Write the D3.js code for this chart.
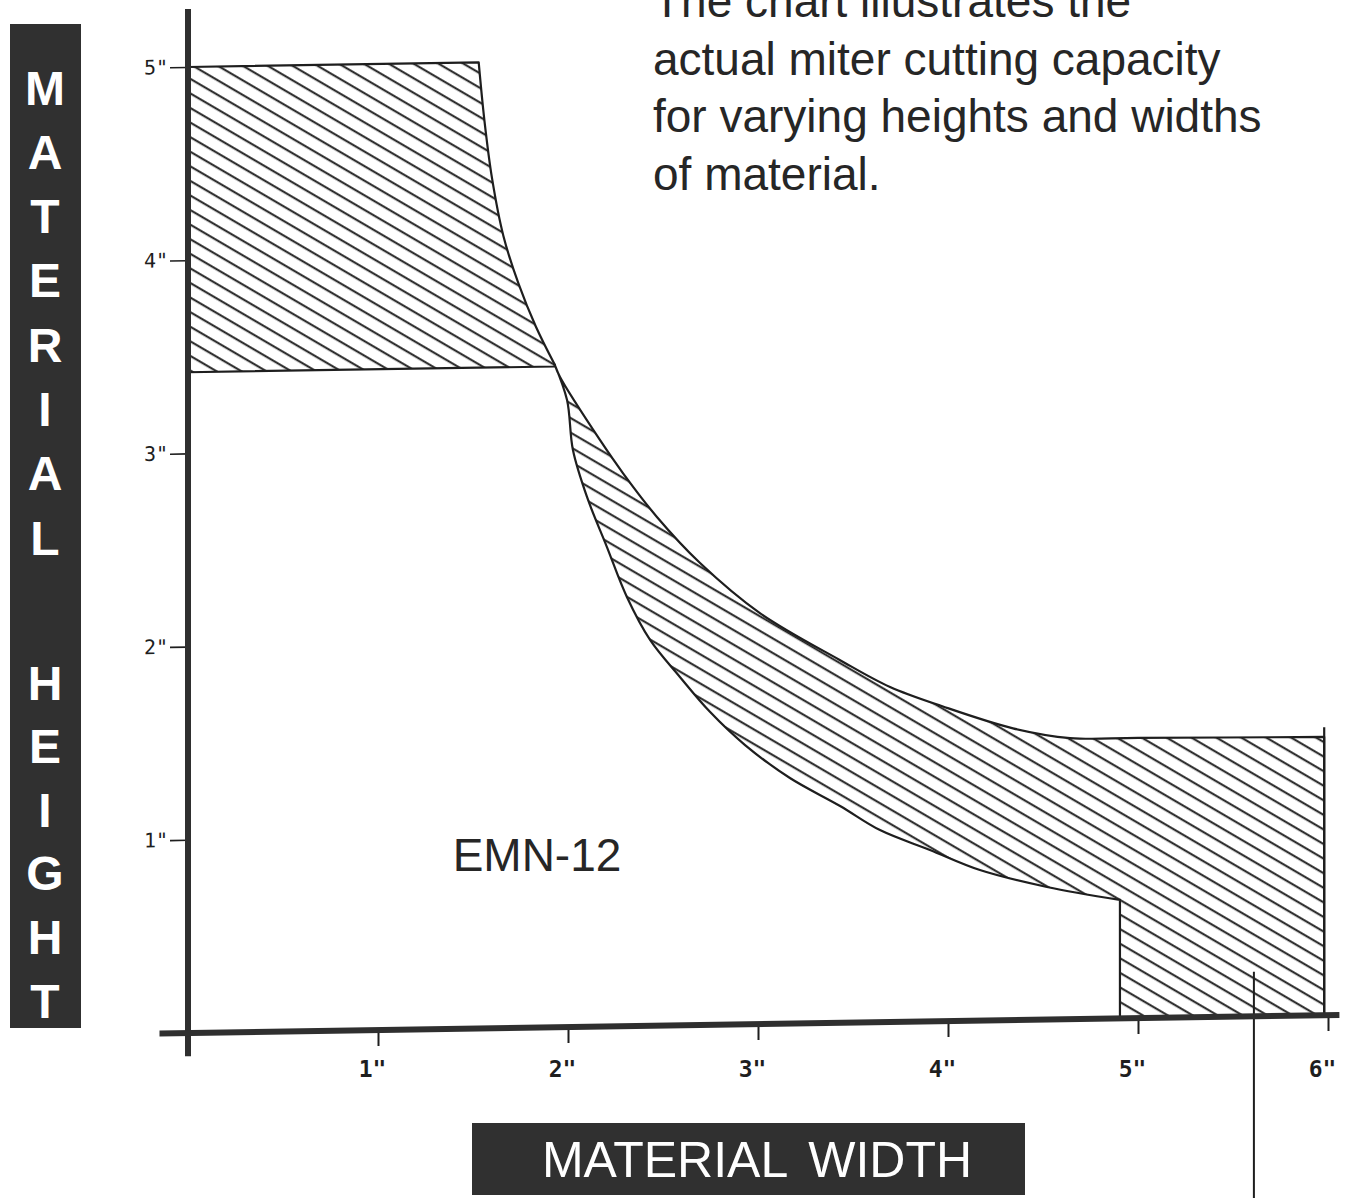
<!DOCTYPE html>
<html>
<head>
<meta charset="utf-8">
<script src="https://cdn.jsdelivr.net/npm/d3@7"></script>
<style>
  body { margin: 0; background: #fff; }
  svg { display: block; }
</style>
</head>
<body>
<div id="chart"></div>
<script>
// ── Data (inches) ─────────────────────────────────────────────
const xTicks = [1, 2, 3, 4, 5, 6];
const yTicks = [1, 2, 3, 4, 5];

// upper hatched zone: top-left corner, then the falling right edge
const tallZoneEdge = [
  [1.53, 5], [1.56, 4.7], [1.6, 4.4], [1.66, 4.1],
  [1.74, 3.85], [1.83, 3.63], [1.93, 3.43]
];
const tallZoneTop = 5;
const tallZoneFloor = 3.42;

// lower hatched band: upper boundary (max) and lower boundary (min)
const bandUpper = [
  [1.93, 3.43], [1.958, 3.365], [2.168, 3.036], [2.289, 2.863], [2.468, 2.633],
  [2.695, 2.391], [3.01, 2.127], [3.43, 1.878], [3.695, 1.734], [3.97, 1.63],
  [4.342, 1.51], [4.642, 1.455], [5.0, 1.45], [5.98, 1.44]
];
const bandLower = [
  [1.93, 3.43], [1.995, 3.245], [2.026, 2.986], [2.1, 2.742], [2.205, 2.481],
  [2.31, 2.221], [2.432, 1.997], [2.589, 1.803], [2.747, 1.62], [2.932, 1.445],
  [3.168, 1.271], [3.432, 1.122], [3.642, 0.994], [3.905, 0.887], [4.168, 0.779],
  [4.521, 0.686], [4.905, 0.613]
];
const blockLeft  = 4.905;
const blockRight = 5.98;
const leaderX = 5.61;
const leaderTop = 0.23;

const descLines = [
  "The chart illustrates the",
  "actual miter cutting capacity",
  "for varying heights and widths",
  "of material."
];
const modelName = "EMN-12";
const yTitleWords = ["MATERIAL", "HEIGHT"];
const xTitle = "MATERIAL WIDTH";

const ink = "#1e1e1e";
const axisInk = "#2f2f2f";
const boxInk = "#303030";

const W = 1345, H = 1198;

const svg = d3.select("#chart").append("svg")
  .attr("width", W).attr("height", H);

// hatch pattern
const defs = svg.append("defs");
defs.append("pattern")
  .attr("id", "hatch")
  .attr("patternUnits", "userSpaceOnUse")
  .attr("width", 13).attr("height", 12.5)
  .attr("patternTransform", "rotate(31)")
  .append("line")
  .attr("x1", -1).attr("y1", 6).attr("x2", 14).attr("y2", 6)
  .attr("stroke", ink).attr("stroke-width", 2);

// ── Plot area (scan is slightly skewed) ──────────────────────
const g = svg.append("g")
  .attr("transform", "translate(188,1033) skewY(-0.9)");

const x = d3.scaleLinear().domain([0, 6]).range([0, 1140]);
const y = d3.scaleLinear().domain([0, 5]).range([0, -966]);

const smooth = d3.line().x(d => x(d[0])).y(d => y(d[1]))
  .curve(d3.curveCatmullRom.alpha(0.5));

// upper zone polygon
const edgeEnd = tallZoneEdge[tallZoneEdge.length - 1];
const tallPath =
  "M" + x(0) + "," + y(tallZoneTop) +
  smooth(tallZoneEdge).replace(/^M/, "L") +
  "L" + x(edgeEnd[0]) + "," + y(tallZoneFloor) +
  "L" + x(0) + "," + y(tallZoneFloor) + "Z";

g.append("path")
  .attr("d", tallPath)
  .attr("fill", "url(#hatch)")
  .attr("stroke", ink).attr("stroke-width", 2.2)
  .attr("stroke-linejoin", "round");

// lower band + block
const last = bandUpper[bandUpper.length - 1];
const bandPath =
  smooth(bandUpper) +
  "L" + x(blockRight) + "," + y(last[1]) +
  "L" + x(blockRight) + "," + y(0) +
  "L" + x(blockLeft) + "," + y(0) +
  "L" + x(blockLeft) + "," + y(bandLower[bandLower.length - 1][1]) +
  smooth(bandLower.slice().reverse()).replace(/^M/, "L") + "Z";

g.append("path")
  .attr("d", bandPath)
  .attr("fill", "url(#hatch)")
  .attr("stroke", ink).attr("stroke-width", 2.2)
  .attr("stroke-linejoin", "round");

// little overshoot of right edge
g.append("line")
  .attr("x1", x(blockRight)).attr("x2", x(blockRight))
  .attr("y1", y(last[1] + 0.05)).attr("y2", y(0))
  .attr("stroke", ink).attr("stroke-width", 2.2);

// leader line
g.append("line")
  .attr("x1", x(leaderX)).attr("x2", x(leaderX))
  .attr("y1", y(leaderTop)).attr("y2", y(-1.1))
  .attr("stroke", ink).attr("stroke-width", 2);

// ── Axes ─────────────────────────────────────────────────────
g.append("g")
  .call(d3.axisBottom(x).tickValues(xTicks).tickSize(16).tickFormat(""))
  .call(a => a.select(".domain").remove())
  .call(a => a.selectAll(".tick line").attr("stroke", ink).attr("stroke-width", 2));

g.append("g")
  .call(d3.axisLeft(y).tickValues(yTicks).tickSize(18).tickPadding(2).tickFormat(d => d + '"'))
  .call(a => a.select(".domain").remove())
  .call(a => a.selectAll(".tick line").attr("stroke", ink).attr("stroke-width", 1.6))
  .call(a => a.selectAll(".tick text")
    .attr("fill", ink)
    .style("font-family", "'DejaVu Sans Mono', monospace")
    .style("font-size", "20px"));

g.append("line")
  .attr("x1", 0).attr("x2", 0)
  .attr("y1", y(5.3)).attr("y2", y(-0.12))
  .attr("stroke", axisInk).attr("stroke-width", 6);

g.append("line")
  .attr("x1", x(-0.15)).attr("x2", x(6.06))
  .attr("y1", y(0)).attr("y2", y(0))
  .attr("stroke", axisInk).attr("stroke-width", 6);

// x tick labels sit level (not skewed)
svg.append("g")
  .attr("transform", "translate(182,1058)")
  .call(d3.axisBottom(x).tickValues(xTicks).tickSize(0).tickFormat(d => d + '"'))
  .call(a => a.select(".domain").remove())
  .call(a => a.selectAll(".tick text")
    .attr("fill", ink)
    .style("font-family", "'DejaVu Sans Mono', monospace")
    .style("font-weight", "bold")
    .style("font-size", "23px"));

// ── Texts ────────────────────────────────────────────────────
svg.append("g")
  .selectAll("text")
  .data(descLines).enter().append("text")
  .attr("x", 653)
  .attr("y", (d, i) => 17 + i * 57.5)
  .style("font-family", "'Liberation Sans', Arial, sans-serif")
  .style("font-size", "46px")
  .attr("fill", "#262626")
  .text(d => d);

svg.append("text")
  .attr("x", 537).attr("y", 871)
  .attr("text-anchor", "middle")
  .style("font-family", "'Liberation Sans', Arial, sans-serif")
  .style("font-size", "46px")
  .attr("fill", "#262626")
  .text(modelName);

// left title box
svg.append("rect")
  .attr("x", 10).attr("y", 24).attr("width", 71).attr("height", 1004)
  .attr("fill", boxInk);

const letterRows = [];
yTitleWords[0].split("").forEach((c, i) => letterRows.push({ c, y: 88 + i * 64.3 }));
yTitleWords[1].split("").forEach((c, i) => letterRows.push({ c, y: 683 + i * 63.6 }));

svg.append("g")
  .selectAll("text")
  .data(letterRows).enter().append("text")
  .attr("x", 45).attr("y", d => d.y)
  .attr("text-anchor", "middle")
  .attr("dominant-baseline", "central")
  .style("font-family", "'Liberation Sans', Arial, sans-serif")
  .style("font-weight", "bold")
  .style("font-size", "48px")
  .attr("fill", "#fff")
  .text(d => d.c);

// bottom title box
svg.append("rect")
  .attr("x", 472).attr("y", 1123).attr("width", 553).attr("height", 72)
  .attr("fill", boxInk);

svg.append("text")
  .attr("x", 757).attr("y", 1177)
  .attr("text-anchor", "middle")
  .style("font-family", "'Liberation Sans', Arial, sans-serif")
  .style("font-size", "50px")
  .style("word-spacing", "8px")
  .attr("fill", "#fff")
  .text(xTitle);
</script>
</body>
</html>
